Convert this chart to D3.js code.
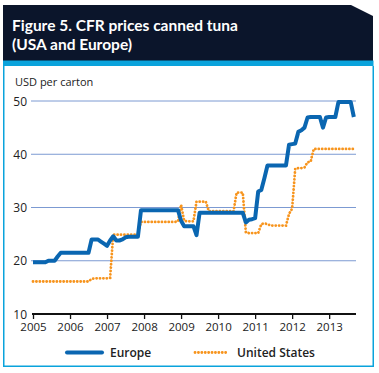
<!DOCTYPE html>
<html><head><meta charset="utf-8">
<script src="https://cdn.jsdelivr.net/npm/d3@7"></script>
<style>body{margin:0;background:#fff}svg{display:block}text{font-family:"Open Sans","Noto Sans",sans-serif}</style>
</head><body>
<script>
const titleLines = ["Figure 5. CFR prices canned tuna", "(USA and Europe)"];
const yAxisTitle = "USD per carton";
const yTicks = [10, 20, 30, 40, 50];
const xTicks = [2005, 2006, 2007, 2008, 2009, 2010, 2011, 2012, 2013];
const seriesNames = ["Europe", "United States"];
// monthly values, Jan 2005 .. Sep 2013
const europe = [
 19.7,19.7,19.7,19.7,19.7,20.0,20.0,20.0,20.8,21.5,21.5,21.5,
 21.5,21.5,21.5,21.5,21.5,21.5,21.5,24.0,24.0,24.0,23.6,23.2,
 22.8,23.8,24.6,23.8,23.8,24.0,24.4,24.5,24.5,24.5,24.5,29.5,
 29.5,29.5,29.5,29.5,29.5,29.5,29.5,29.5,29.5,29.5,29.5,29.5,
 27.5,26.5,26.5,26.5,26.5,24.8,29.0,29.0,29.0,29.0,29.0,29.0,
 29.0,29.0,29.0,29.0,29.0,29.0,29.0,29.0,29.0,27.2,27.7,27.8,
 28.0,33.0,33.3,35.5,37.9,37.9,37.9,37.9,37.9,37.9,37.9,41.8,
 41.9,42.0,44.2,44.5,45.0,46.9,47.0,47.0,47.0,47.0,45.0,46.9,
 47.0,47.0,47.0,49.8,49.8,49.8,49.8,49.8,47.0
];
const unitedStates = [
 16.1,16.1,16.1,16.1,16.1,16.1,16.1,16.1,16.1,16.1,16.1,16.1,
 16.1,16.1,16.1,16.1,16.1,16.1,16.1,16.6,16.7,16.7,16.7,16.7,
 16.7,16.8,24.9,24.9,24.9,24.9,24.9,24.9,24.9,24.9,24.9,27.3,
 27.3,27.3,27.3,27.3,27.3,27.3,27.3,27.3,27.3,27.3,27.3,27.4,
 30.5,27.5,27.4,27.4,27.4,31.1,31.1,31.1,31.1,29.3,29.3,29.3,
 29.3,29.3,29.3,29.3,29.3,29.3,32.8,32.8,32.8,25.3,25.2,25.2,
 25.2,25.2,26.9,27.0,26.9,26.6,26.6,26.6,26.6,26.6,26.6,28.8,
 29.8,37.3,37.4,37.4,37.5,38.5,38.6,41.0,41.0,41.0,41.0,41.0,
 41.0,41.0,41.0,41.0,41.0,41.0,41.0,41.0,41.0
];
const startYear = 2005;

const W = 379, H = 373;
const svg = d3.select("body").append("svg").attr("width", W).attr("height", H);

// header
svg.append("path").attr("d", "M3,5 L351,5 L373,16 L373,61 L3,61 Z").attr("fill", "#0b152b");
svg.append("rect").attr("x", 3).attr("y", 60.5).attr("width", 370.5).attr("height", 5.5).attr("fill", "#0aa3dc");
svg.append("path").attr("d", "M3.75,66 L3.75,366.25 L373.25,366.25 L373.25,66")
  .attr("fill", "none").attr("stroke", "#0aa3dc").attr("stroke-width", 1.5);
svg.selectAll("text.title").data(titleLines).join("text").attr("class", "title")
  .attr("x", 12).attr("y", (d, i) => 31 + i * 19)
  .attr("fill", "#fff").attr("font-size", 15.5).attr("font-weight", 700)
  .style("font-family", "Lato, 'Open Sans', sans-serif")
  .text(d => d);

const x = d3.scaleLinear().domain([2005, 2013 + 8.7 / 12]).range([33, 356]);
const y = d3.scaleLinear().domain([10, 50]).range([314, 101]);

svg.append("text").attr("x", 15).attr("y", 86).attr("font-size", 11).attr("fill", "#222").text(yAxisTitle);

// grid lines
svg.append("g").selectAll("line").data(yTicks.filter(d => d > 10)).join("line")
  .attr("x1", 31).attr("x2", 356).attr("y1", d => y(d)).attr("y2", d => y(d))
  .attr("stroke", "#7c9ad2").attr("stroke-width", 1);

// y labels
svg.append("g").selectAll("text").data(yTicks).join("text")
  .attr("x", 27).attr("y", d => y(d) + 4.5).attr("text-anchor", "end")
  .attr("font-size", 12).attr("fill", "#222").text(d => d);

// x axis
const xAxis = d3.axisBottom(x).tickValues(xTicks).tickFormat(d3.format("d")).tickSize(5).tickPadding(4);
const gx = svg.append("g").attr("transform", "translate(0,314)").call(xAxis);
gx.select(".domain").attr("stroke", "#111").attr("stroke-width", 2.2).attr("d", "M32,0H356");
gx.selectAll(".tick line").attr("stroke", "#111").attr("stroke-width", 1.3);
gx.selectAll(".tick text").attr("font-size", 11.5).attr("fill", "#222").attr("font-family", '"Open Sans","Noto Sans",sans-serif');

const line = d3.line().x((d, i) => x(startYear + i / 12)).y(d => y(d));

svg.append("path").datum(unitedStates).attr("d", line).attr("fill", "none")
  .attr("stroke", "#f7941d").attr("stroke-width", 2.8).attr("stroke-linecap", "round")
  .attr("stroke-dasharray", "0.1,3.3");
svg.append("path").datum(europe).attr("d", line).attr("fill", "none")
  .attr("stroke", "#0a66b1").attr("stroke-width", 4).attr("stroke-linejoin", "round");

// legend
const lg = svg.append("g");
lg.append("line").attr("x1", 67).attr("x2", 102).attr("y1", 352.5).attr("y2", 352.5)
  .attr("stroke", "#0a66b1").attr("stroke-width", 4).attr("stroke-linecap", "round");
lg.append("text").attr("x", 110).attr("y", 357).attr("font-size", 12).attr("font-weight", 600).attr("fill", "#222").text(seriesNames[0]);
lg.append("line").attr("x1", 195).attr("x2", 227).attr("y1", 352.5).attr("y2", 352.5)
  .attr("stroke", "#f7941d").attr("stroke-width", 2.8).attr("stroke-linecap", "round").attr("stroke-dasharray", "0.1,3.3");
lg.append("text").attr("x", 237).attr("y", 357).attr("font-size", 12).attr("font-weight", 600).attr("fill", "#222").text(seriesNames[1]);
</script>
</body></html>
